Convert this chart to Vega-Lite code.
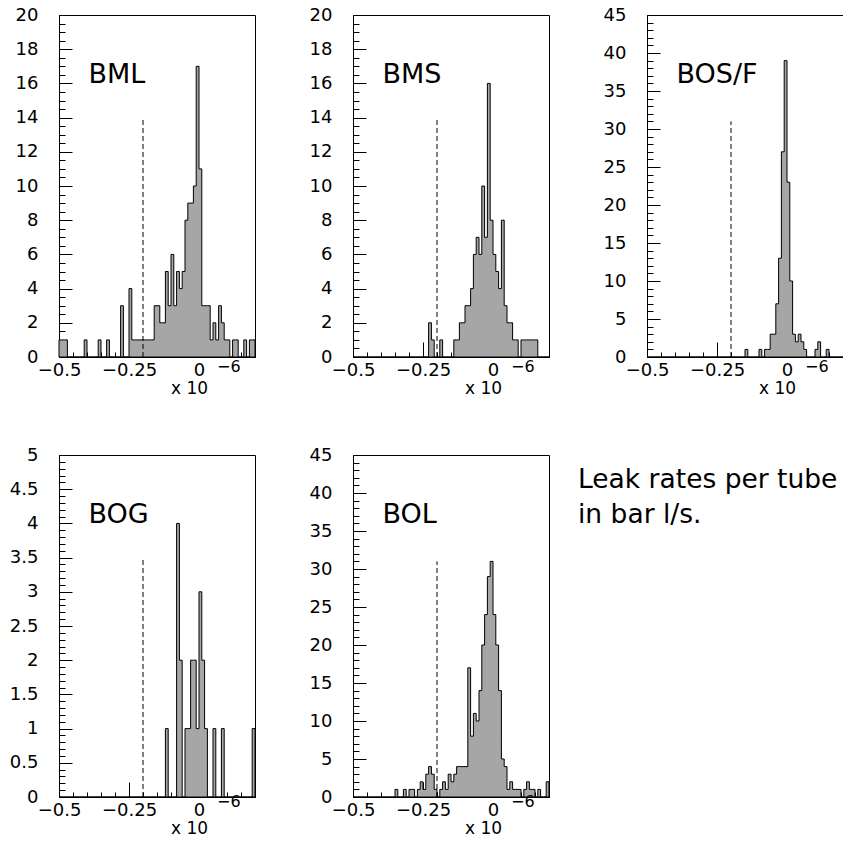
{
"$schema": "https://vega.github.io/schema/vega-lite/v6.json",
"background": "white",
"padding": {"left": 8, "top": 5, "right": 0, "bottom": 0},
"autosize": {"type": "pad"},
"config": {
  "font": "DejaVu Sans",
  "view": {"stroke": "black", "strokeWidth": 1},
  "axis": {"labelFont": "DejaVu Sans", "labelFontSize": 18, "labelColor": "black", "tickColor": "black", "domainColor": "black", "grid": false, "tickWidth": 1, "domainWidth": 1, "labelOverlap": false, "labelFlush": false, "labelBound": false, "tickCount": 200},
  "text": {"color": "black", "font": "DejaVu Sans"}
},
"datasets": {
"bml": [
{"x":-0.5,"n":1},{"x":-0.49,"n":1},{"x":-0.48,"n":1},{"x":-0.47,"n":0},{"x":-0.46,"n":0},{"x":-0.45,"n":0},{"x":-0.44,"n":0},{"x":-0.43,"n":0},{"x":-0.42,"n":0},{"x":-0.41,"n":1},
{"x":-0.4,"n":0},{"x":-0.39,"n":0},{"x":-0.38,"n":0},{"x":-0.37,"n":0},{"x":-0.36,"n":1},{"x":-0.35,"n":0},{"x":-0.34,"n":0},{"x":-0.33,"n":1},{"x":-0.32,"n":0},{"x":-0.31,"n":0},
{"x":-0.3,"n":0},{"x":-0.29,"n":0},{"x":-0.28,"n":3},{"x":-0.27,"n":0},{"x":-0.26,"n":0},{"x":-0.25,"n":4},{"x":-0.24,"n":1},{"x":-0.23,"n":1},{"x":-0.22,"n":1},{"x":-0.21,"n":1},
{"x":-0.2,"n":1},{"x":-0.19,"n":1},{"x":-0.18,"n":1},{"x":-0.17,"n":1},{"x":-0.16,"n":3},{"x":-0.15,"n":3},{"x":-0.14,"n":2},{"x":-0.13,"n":2},{"x":-0.12,"n":5},{"x":-0.11,"n":3},
{"x":-0.1,"n":6},{"x":-0.09,"n":3},{"x":-0.08,"n":5},{"x":-0.07,"n":4},{"x":-0.06,"n":5},{"x":-0.05,"n":8},{"x":-0.04,"n":9},{"x":-0.03,"n":9},{"x":-0.02,"n":10},{"x":-0.01,"n":17},
{"x":0,"n":11},{"x":0.01,"n":3},{"x":0.02,"n":3},{"x":0.03,"n":3},{"x":0.04,"n":1},{"x":0.05,"n":2},{"x":0.06,"n":1},{"x":0.07,"n":3},{"x":0.08,"n":2},{"x":0.09,"n":1},
{"x":0.1,"n":1},{"x":0.11,"n":0},{"x":0.12,"n":1},{"x":0.13,"n":1},{"x":0.14,"n":0},{"x":0.15,"n":0},{"x":0.16,"n":1},{"x":0.17,"n":0},{"x":0.18,"n":1},{"x":0.19,"n":1},
{"x":0.2,"n":0}
],
"bms": [
{"x":-0.5,"n":0},{"x":-0.49,"n":0},{"x":-0.48,"n":0},{"x":-0.47,"n":0},{"x":-0.46,"n":0},{"x":-0.45,"n":0},{"x":-0.44,"n":0},{"x":-0.43,"n":0},{"x":-0.42,"n":0},{"x":-0.41,"n":0},
{"x":-0.4,"n":0},{"x":-0.39,"n":0},{"x":-0.38,"n":0},{"x":-0.37,"n":0},{"x":-0.36,"n":0},{"x":-0.35,"n":0},{"x":-0.34,"n":0},{"x":-0.33,"n":0},{"x":-0.32,"n":0},{"x":-0.31,"n":0},
{"x":-0.3,"n":0},{"x":-0.29,"n":0},{"x":-0.28,"n":0},{"x":-0.27,"n":0},{"x":-0.26,"n":0},{"x":-0.25,"n":0},{"x":-0.24,"n":0},{"x":-0.23,"n":2},{"x":-0.22,"n":1},{"x":-0.21,"n":0},
{"x":-0.2,"n":0},{"x":-0.19,"n":1},{"x":-0.18,"n":0},{"x":-0.17,"n":0},{"x":-0.16,"n":0},{"x":-0.15,"n":0},{"x":-0.14,"n":1},{"x":-0.13,"n":1},{"x":-0.12,"n":2},{"x":-0.11,"n":2},
{"x":-0.1,"n":3},{"x":-0.09,"n":3},{"x":-0.08,"n":4},{"x":-0.07,"n":6},{"x":-0.06,"n":7},{"x":-0.05,"n":6},{"x":-0.04,"n":10},{"x":-0.03,"n":7},{"x":-0.02,"n":16},{"x":-0.01,"n":8},
{"x":0,"n":6},{"x":0.01,"n":5},{"x":0.02,"n":4},{"x":0.03,"n":8},{"x":0.04,"n":3},{"x":0.05,"n":2},{"x":0.06,"n":2},{"x":0.07,"n":1},{"x":0.08,"n":1},{"x":0.09,"n":0},
{"x":0.1,"n":1},{"x":0.11,"n":1},{"x":0.12,"n":1},{"x":0.13,"n":1},{"x":0.14,"n":1},{"x":0.15,"n":1},{"x":0.16,"n":0},{"x":0.17,"n":0},{"x":0.18,"n":0},{"x":0.19,"n":0},
{"x":0.2,"n":0}
],
"bos": [
{"x":-0.5,"n":0},{"x":-0.49,"n":0},{"x":-0.48,"n":0},{"x":-0.47,"n":0},{"x":-0.46,"n":0},{"x":-0.45,"n":0},{"x":-0.44,"n":0},{"x":-0.43,"n":0},{"x":-0.42,"n":0},{"x":-0.41,"n":0},
{"x":-0.4,"n":0},{"x":-0.39,"n":0},{"x":-0.38,"n":0},{"x":-0.37,"n":0},{"x":-0.36,"n":0},{"x":-0.35,"n":0},{"x":-0.34,"n":0},{"x":-0.33,"n":0},{"x":-0.32,"n":0},{"x":-0.31,"n":0},
{"x":-0.3,"n":0},{"x":-0.29,"n":0},{"x":-0.28,"n":0},{"x":-0.27,"n":0},{"x":-0.26,"n":0},{"x":-0.25,"n":0},{"x":-0.24,"n":0},{"x":-0.23,"n":0},{"x":-0.22,"n":0},{"x":-0.21,"n":0},
{"x":-0.2,"n":0},{"x":-0.19,"n":0},{"x":-0.18,"n":0},{"x":-0.17,"n":0},{"x":-0.16,"n":0},{"x":-0.15,"n":1},{"x":-0.14,"n":0},{"x":-0.13,"n":0},{"x":-0.12,"n":0},{"x":-0.11,"n":0},
{"x":-0.1,"n":1},{"x":-0.09,"n":0},{"x":-0.08,"n":1},{"x":-0.07,"n":1},{"x":-0.06,"n":3},{"x":-0.05,"n":3},{"x":-0.04,"n":7},{"x":-0.03,"n":13},{"x":-0.02,"n":27},{"x":-0.01,"n":39},
{"x":0,"n":23},{"x":0.01,"n":10},{"x":0.02,"n":3},{"x":0.03,"n":2},{"x":0.04,"n":3},{"x":0.05,"n":2},{"x":0.06,"n":1},{"x":0.07,"n":0},{"x":0.08,"n":0},{"x":0.09,"n":0},
{"x":0.1,"n":1},{"x":0.11,"n":2},{"x":0.12,"n":0},{"x":0.13,"n":0},{"x":0.14,"n":1},{"x":0.15,"n":0},{"x":0.16,"n":0},{"x":0.17,"n":0},{"x":0.18,"n":0},{"x":0.19,"n":0},
{"x":0.2,"n":0}
],
"bog": [
{"x":-0.5,"n":0},{"x":-0.49,"n":0},{"x":-0.48,"n":0},{"x":-0.47,"n":0},{"x":-0.46,"n":0},{"x":-0.45,"n":0},{"x":-0.44,"n":0},{"x":-0.43,"n":0},{"x":-0.42,"n":0},{"x":-0.41,"n":0},
{"x":-0.4,"n":0},{"x":-0.39,"n":0},{"x":-0.38,"n":0},{"x":-0.37,"n":0},{"x":-0.36,"n":0},{"x":-0.35,"n":0},{"x":-0.34,"n":0},{"x":-0.33,"n":0},{"x":-0.32,"n":0},{"x":-0.31,"n":0},
{"x":-0.3,"n":0},{"x":-0.29,"n":0},{"x":-0.28,"n":0},{"x":-0.27,"n":0},{"x":-0.26,"n":0},{"x":-0.25,"n":0},{"x":-0.24,"n":0},{"x":-0.23,"n":0},{"x":-0.22,"n":0},{"x":-0.21,"n":0},
{"x":-0.2,"n":0},{"x":-0.19,"n":0},{"x":-0.18,"n":0},{"x":-0.17,"n":0},{"x":-0.16,"n":0},{"x":-0.15,"n":0},{"x":-0.14,"n":0},{"x":-0.13,"n":0},{"x":-0.12,"n":1},{"x":-0.11,"n":0},
{"x":-0.1,"n":0},{"x":-0.09,"n":0},{"x":-0.08,"n":4},{"x":-0.07,"n":2},{"x":-0.06,"n":0},{"x":-0.05,"n":1},{"x":-0.04,"n":1},{"x":-0.03,"n":2},{"x":-0.02,"n":2},{"x":-0.01,"n":1},
{"x":0,"n":3},{"x":0.01,"n":2},{"x":0.02,"n":1},{"x":0.03,"n":0},{"x":0.04,"n":0},{"x":0.05,"n":1},{"x":0.06,"n":0},{"x":0.07,"n":0},{"x":0.08,"n":1},{"x":0.09,"n":0},
{"x":0.1,"n":0},{"x":0.11,"n":0},{"x":0.12,"n":0},{"x":0.13,"n":0},{"x":0.14,"n":0},{"x":0.15,"n":0},{"x":0.16,"n":0},{"x":0.17,"n":0},{"x":0.18,"n":0},{"x":0.19,"n":1},
{"x":0.2,"n":0}
],
"bol": [
{"x":-0.5,"n":0},{"x":-0.49,"n":0},{"x":-0.48,"n":0},{"x":-0.47,"n":0},{"x":-0.46,"n":0},{"x":-0.45,"n":0},{"x":-0.44,"n":0},{"x":-0.43,"n":0},{"x":-0.42,"n":0},{"x":-0.41,"n":0},
{"x":-0.4,"n":0},{"x":-0.39,"n":0},{"x":-0.38,"n":0},{"x":-0.37,"n":0},{"x":-0.36,"n":0},{"x":-0.35,"n":1},{"x":-0.34,"n":0},{"x":-0.33,"n":0},{"x":-0.32,"n":1},{"x":-0.31,"n":0},
{"x":-0.3,"n":1},{"x":-0.29,"n":1},{"x":-0.28,"n":0},{"x":-0.27,"n":1},{"x":-0.26,"n":2},{"x":-0.25,"n":1},{"x":-0.24,"n":3},{"x":-0.23,"n":4},{"x":-0.22,"n":3},{"x":-0.21,"n":1},
{"x":-0.2,"n":0},{"x":-0.19,"n":1},{"x":-0.18,"n":2},{"x":-0.17,"n":1},{"x":-0.16,"n":3},{"x":-0.15,"n":2},{"x":-0.14,"n":3},{"x":-0.13,"n":4},{"x":-0.12,"n":4},{"x":-0.11,"n":4},
{"x":-0.1,"n":4},{"x":-0.09,"n":17},{"x":-0.08,"n":8},{"x":-0.07,"n":11},{"x":-0.06,"n":10},{"x":-0.05,"n":14},{"x":-0.04,"n":20},{"x":-0.03,"n":24},{"x":-0.02,"n":29},{"x":-0.01,"n":31},
{"x":0,"n":24},{"x":0.01,"n":20},{"x":0.02,"n":14},{"x":0.03,"n":5},{"x":0.04,"n":4},{"x":0.05,"n":1},{"x":0.06,"n":2},{"x":0.07,"n":1},{"x":0.08,"n":1},{"x":0.09,"n":1},
{"x":0.1,"n":0},{"x":0.11,"n":1},{"x":0.12,"n":2},{"x":0.13,"n":1},{"x":0.14,"n":1},{"x":0.15,"n":0},{"x":0.16,"n":1},{"x":0.17,"n":0},{"x":0.18,"n":0},{"x":0.19,"n":2},
{"x":0.2,"n":0}
]
},
"columns": 3,
"spacing": 98,
"bounds": "flush",
"concat": [
 {"width": 196, "height": 342, "layer": [
  {"data": {"name": "bml"}, "mark": {"type": "area", "interpolate": "step-after", "fill": "#a6a6a6", "stroke": "black", "strokeWidth": 1},
   "encoding": {
    "x": {"field": "x", "type": "quantitative", "scale": {"domain": [-0.5, 0.2], "nice": false, "zero": false},
      "axis": {"title": null, "tickCount": 200, "labelOverlap": false, "labelFlush": false, "values": [-0.5,-0.45,-0.4,-0.35,-0.3,-0.25,-0.2,-0.15,-0.1,-0.05,0,0.05,0.1,0.15,0.2], "tickSize": {"condition": {"test": "datum.value == -0.5 || datum.value == -0.25 || datum.value == 0", "value": -15}, "value": -5}, "labelExpr": "datum.value == -0.5 ? '−0.5' : datum.value == -0.25 ? '−0.25' : datum.value == 0 ? '0' : ''", "labelPadding": 19}},
    "y": {"field": "n", "type": "quantitative", "scale": {"domain": [0, 20], "nice": false},
      "axis": {"title": null, "tickCount": 200, "labelOverlap": false, "values": [0,0.5,1,1.5,2,2.5,3,3.5,4,4.5,5,5.5,6,6.5,7,7.5,8,8.5,9,9.5,10,10.5,11,11.5,12,12.5,13,13.5,14,14.5,15,15.5,16,16.5,17,17.5,18,18.5,19,19.5,20], "tickSize": {"condition": {"test": "datum.value % 2 == 0", "value": -13}, "value": -6}, "labelExpr": "datum.value % 2 == 0 ? toString(datum.value) : ''", "labelPadding": 34}}
   }},
  {"data": {"values": [{"cut": -0.2}]}, "mark": {"type": "rule", "color": "black", "strokeWidth": 1, "strokeDash": [5, 3]},
   "encoding": {"x": {"field": "cut", "type": "quantitative"}, "y": {"datum": 0}, "y2": {"datum": 14}}},
  {"data": {"values": [{"label": "BML"}]}, "mark": {"type": "text", "align": "left", "baseline": "alphabetic", "fontSize": 27, "dx": 29.5, "dy": 68},
   "encoding": {"x": {"datum": -0.5}, "y": {"datum": 20}, "text": {"field": "label"}}},
  {"data": {"values": [{"unit": "x 10"}]}, "mark": {"type": "text", "align": "left", "baseline": "alphabetic", "fontSize": 17, "dx": 112, "dy": 37},
   "encoding": {"x": {"datum": -0.5}, "y": {"datum": 0}, "text": {"field": "unit"}}},
  {"data": {"values": [{"exp": "−6"}]}, "mark": {"type": "text", "align": "left", "baseline": "alphabetic", "fontSize": 16, "dx": 158, "dy": 15},
   "encoding": {"x": {"datum": -0.5}, "y": {"datum": 0}, "text": {"field": "exp"}}}
 ]},
 {"width": 196, "height": 342, "layer": [
  {"data": {"name": "bms"}, "mark": {"type": "area", "interpolate": "step-after", "fill": "#a6a6a6", "stroke": "black", "strokeWidth": 1},
   "encoding": {
    "x": {"field": "x", "type": "quantitative", "scale": {"domain": [-0.5, 0.2], "nice": false, "zero": false},
      "axis": {"title": null, "tickCount": 200, "labelOverlap": false, "labelFlush": false, "values": [-0.5,-0.45,-0.4,-0.35,-0.3,-0.25,-0.2,-0.15,-0.1,-0.05,0,0.05,0.1,0.15,0.2], "tickSize": {"condition": {"test": "datum.value == -0.5 || datum.value == -0.25 || datum.value == 0", "value": -15}, "value": -5}, "labelExpr": "datum.value == -0.5 ? '−0.5' : datum.value == -0.25 ? '−0.25' : datum.value == 0 ? '0' : ''", "labelPadding": 19}},
    "y": {"field": "n", "type": "quantitative", "scale": {"domain": [0, 20], "nice": false},
      "axis": {"title": null, "tickCount": 200, "labelOverlap": false, "values": [0,0.5,1,1.5,2,2.5,3,3.5,4,4.5,5,5.5,6,6.5,7,7.5,8,8.5,9,9.5,10,10.5,11,11.5,12,12.5,13,13.5,14,14.5,15,15.5,16,16.5,17,17.5,18,18.5,19,19.5,20], "tickSize": {"condition": {"test": "datum.value % 2 == 0", "value": -13}, "value": -6}, "labelExpr": "datum.value % 2 == 0 ? toString(datum.value) : ''", "labelPadding": 34}}
   }},
  {"data": {"values": [{"cut": -0.2}]}, "mark": {"type": "rule", "color": "black", "strokeWidth": 1, "strokeDash": [5, 3]},
   "encoding": {"x": {"field": "cut", "type": "quantitative"}, "y": {"datum": 0}, "y2": {"datum": 14}}},
  {"data": {"values": [{"label": "BMS"}]}, "mark": {"type": "text", "align": "left", "baseline": "alphabetic", "fontSize": 27, "dx": 29.5, "dy": 68},
   "encoding": {"x": {"datum": -0.5}, "y": {"datum": 20}, "text": {"field": "label"}}},
  {"data": {"values": [{"unit": "x 10"}]}, "mark": {"type": "text", "align": "left", "baseline": "alphabetic", "fontSize": 17, "dx": 112, "dy": 37},
   "encoding": {"x": {"datum": -0.5}, "y": {"datum": 0}, "text": {"field": "unit"}}},
  {"data": {"values": [{"exp": "−6"}]}, "mark": {"type": "text", "align": "left", "baseline": "alphabetic", "fontSize": 16, "dx": 158, "dy": 15},
   "encoding": {"x": {"datum": -0.5}, "y": {"datum": 0}, "text": {"field": "exp"}}}
 ]},
 {"width": 196, "height": 342, "layer": [
  {"data": {"name": "bos"}, "mark": {"type": "area", "interpolate": "step-after", "fill": "#a6a6a6", "stroke": "black", "strokeWidth": 1},
   "encoding": {
    "x": {"field": "x", "type": "quantitative", "scale": {"domain": [-0.5, 0.2], "nice": false, "zero": false},
      "axis": {"title": null, "tickCount": 200, "labelOverlap": false, "labelFlush": false, "values": [-0.5,-0.45,-0.4,-0.35,-0.3,-0.25,-0.2,-0.15,-0.1,-0.05,0,0.05,0.1,0.15,0.2], "tickSize": {"condition": {"test": "datum.value == -0.5 || datum.value == -0.25 || datum.value == 0", "value": -15}, "value": -5}, "labelExpr": "datum.value == -0.5 ? '−0.5' : datum.value == -0.25 ? '−0.25' : datum.value == 0 ? '0' : ''", "labelPadding": 19}},
    "y": {"field": "n", "type": "quantitative", "scale": {"domain": [0, 45], "nice": false},
      "axis": {"title": null, "tickCount": 200, "labelOverlap": false, "values": [0,1,2,3,4,5,6,7,8,9,10,11,12,13,14,15,16,17,18,19,20,21,22,23,24,25,26,27,28,29,30,31,32,33,34,35,36,37,38,39,40,41,42,43,44,45], "tickSize": {"condition": {"test": "datum.value % 5 == 0", "value": -13}, "value": -6}, "labelExpr": "datum.value % 5 == 0 ? toString(datum.value) : ''", "labelPadding": 34}}
   }},
  {"data": {"values": [{"cut": -0.2}]}, "mark": {"type": "rule", "color": "black", "strokeWidth": 1, "strokeDash": [5, 3]},
   "encoding": {"x": {"field": "cut", "type": "quantitative"}, "y": {"datum": 0}, "y2": {"datum": 31}}},
  {"data": {"values": [{"label": "BOS/F"}]}, "mark": {"type": "text", "align": "left", "baseline": "alphabetic", "fontSize": 27, "dx": 29.5, "dy": 68},
   "encoding": {"x": {"datum": -0.5}, "y": {"datum": 45}, "text": {"field": "label"}}},
  {"data": {"values": [{"unit": "x 10"}]}, "mark": {"type": "text", "align": "left", "baseline": "alphabetic", "fontSize": 17, "dx": 112, "dy": 37},
   "encoding": {"x": {"datum": -0.5}, "y": {"datum": 0}, "text": {"field": "unit"}}},
  {"data": {"values": [{"exp": "−6"}]}, "mark": {"type": "text", "align": "left", "baseline": "alphabetic", "fontSize": 16, "dx": 158, "dy": 15},
   "encoding": {"x": {"datum": -0.5}, "y": {"datum": 0}, "text": {"field": "exp"}}}
 ]},
 {"width": 196, "height": 342, "layer": [
  {"data": {"name": "bog"}, "mark": {"type": "area", "interpolate": "step-after", "fill": "#a6a6a6", "stroke": "black", "strokeWidth": 1},
   "encoding": {
    "x": {"field": "x", "type": "quantitative", "scale": {"domain": [-0.5, 0.2], "nice": false, "zero": false},
      "axis": {"title": null, "tickCount": 200, "labelOverlap": false, "labelFlush": false, "values": [-0.5,-0.45,-0.4,-0.35,-0.3,-0.25,-0.2,-0.15,-0.1,-0.05,0,0.05,0.1,0.15,0.2], "tickSize": {"condition": {"test": "datum.value == -0.5 || datum.value == -0.25 || datum.value == 0", "value": -15}, "value": -5}, "labelExpr": "datum.value == -0.5 ? '−0.5' : datum.value == -0.25 ? '−0.25' : datum.value == 0 ? '0' : ''", "labelPadding": 19}},
    "y": {"field": "n", "type": "quantitative", "scale": {"domain": [0, 5], "nice": false},
      "axis": {"title": null, "tickCount": 200, "labelOverlap": false, "values": [0,0.1,0.2,0.3,0.4,0.5,0.6,0.7,0.8,0.9,1,1.1,1.2,1.3,1.4,1.5,1.6,1.7,1.8,1.9,2,2.1,2.2,2.3,2.4,2.5,2.6,2.7,2.8,2.9,3,3.1,3.2,3.3,3.4,3.5,3.6,3.7,3.8,3.9,4,4.1,4.2,4.3,4.4,4.5,4.6,4.7,4.8,4.9,5], "tickSize": {"condition": {"test": "abs(datum.value * 2 - round(datum.value * 2)) < 0.001", "value": -13}, "value": -6}, "labelExpr": "abs(datum.value * 2 - round(datum.value * 2)) < 0.001 ? toString(datum.value) : ''", "labelPadding": 34}}
   }},
  {"data": {"values": [{"cut": -0.2}]}, "mark": {"type": "rule", "color": "black", "strokeWidth": 1, "strokeDash": [5, 3]},
   "encoding": {"x": {"field": "cut", "type": "quantitative"}, "y": {"datum": 0}, "y2": {"datum": 3.5}}},
  {"data": {"values": [{"label": "BOG"}]}, "mark": {"type": "text", "align": "left", "baseline": "alphabetic", "fontSize": 27, "dx": 29.5, "dy": 68},
   "encoding": {"x": {"datum": -0.5}, "y": {"datum": 5}, "text": {"field": "label"}}},
  {"data": {"values": [{"unit": "x 10"}]}, "mark": {"type": "text", "align": "left", "baseline": "alphabetic", "fontSize": 17, "dx": 112, "dy": 37},
   "encoding": {"x": {"datum": -0.5}, "y": {"datum": 0}, "text": {"field": "unit"}}},
  {"data": {"values": [{"exp": "−6"}]}, "mark": {"type": "text", "align": "left", "baseline": "alphabetic", "fontSize": 16, "dx": 158, "dy": 10},
   "encoding": {"x": {"datum": -0.5}, "y": {"datum": 0}, "text": {"field": "exp"}}}
 ]},
 {"width": 196, "height": 342, "layer": [
  {"data": {"name": "bol"}, "mark": {"type": "area", "interpolate": "step-after", "fill": "#a6a6a6", "stroke": "black", "strokeWidth": 1},
   "encoding": {
    "x": {"field": "x", "type": "quantitative", "scale": {"domain": [-0.5, 0.2], "nice": false, "zero": false},
      "axis": {"title": null, "tickCount": 200, "labelOverlap": false, "labelFlush": false, "values": [-0.5,-0.45,-0.4,-0.35,-0.3,-0.25,-0.2,-0.15,-0.1,-0.05,0,0.05,0.1,0.15,0.2], "tickSize": {"condition": {"test": "datum.value == -0.5 || datum.value == -0.25 || datum.value == 0", "value": -15}, "value": -5}, "labelExpr": "datum.value == -0.5 ? '−0.5' : datum.value == -0.25 ? '−0.25' : datum.value == 0 ? '0' : ''", "labelPadding": 19}},
    "y": {"field": "n", "type": "quantitative", "scale": {"domain": [0, 45], "nice": false},
      "axis": {"title": null, "tickCount": 200, "labelOverlap": false, "values": [0,1,2,3,4,5,6,7,8,9,10,11,12,13,14,15,16,17,18,19,20,21,22,23,24,25,26,27,28,29,30,31,32,33,34,35,36,37,38,39,40,41,42,43,44,45], "tickSize": {"condition": {"test": "datum.value % 5 == 0", "value": -13}, "value": -6}, "labelExpr": "datum.value % 5 == 0 ? toString(datum.value) : ''", "labelPadding": 34}}
   }},
  {"data": {"values": [{"cut": -0.2}]}, "mark": {"type": "rule", "color": "black", "strokeWidth": 1, "strokeDash": [5, 3]},
   "encoding": {"x": {"field": "cut", "type": "quantitative"}, "y": {"datum": 0}, "y2": {"datum": 31}}},
  {"data": {"values": [{"label": "BOL"}]}, "mark": {"type": "text", "align": "left", "baseline": "alphabetic", "fontSize": 27, "dx": 29.5, "dy": 68},
   "encoding": {"x": {"datum": -0.5}, "y": {"datum": 45}, "text": {"field": "label"}}},
  {"data": {"values": [{"unit": "x 10"}]}, "mark": {"type": "text", "align": "left", "baseline": "alphabetic", "fontSize": 17, "dx": 112, "dy": 37},
   "encoding": {"x": {"datum": -0.5}, "y": {"datum": 0}, "text": {"field": "unit"}}},
  {"data": {"values": [{"exp": "−6"}]}, "mark": {"type": "text", "align": "left", "baseline": "alphabetic", "fontSize": 16, "dx": 158, "dy": 10},
   "encoding": {"x": {"datum": -0.5}, "y": {"datum": 0}, "text": {"field": "exp"}}},
  {"data": {"values": [{"note": "Leak rates per tube\nin bar l/s."}]}, "mark": {"type": "text", "align": "left", "baseline": "alphabetic", "fontSize": 26.5, "lineBreak": "\n", "lineHeight": 35, "dx": 29, "dy": 33},
   "encoding": {"x": {"datum": 0.2}, "y": {"datum": 45}, "text": {"field": "note"}}}
 ]}
]
}
